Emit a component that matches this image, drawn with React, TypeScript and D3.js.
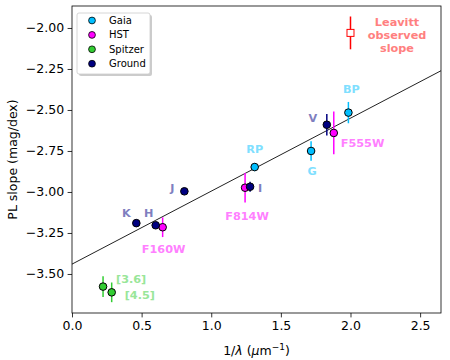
import React, { useEffect, useRef } from 'react';
import * as d3 from 'd3';

// series: [label, 1/lambda, slope, error]
const gaiaNames = ['BP', 'G', 'RP'];
const gaiaX = [1.985, 1.717, 1.312];
const gaiaY = [-2.516, -2.75, -2.848];
const gaiaErr = [0.065, 0.06, 0.025];

const hstNames = ['F555W', 'F814W', 'F160W'];
const hstX = [1.88, 1.243, 0.651];
const hstY = [-2.64, -2.974, -3.215];
const hstErr = [0.13, 0.09, 0.06];

const spitzerNames = ['[3.6]', '[4.5]'];
const spitzerX = [0.223, 0.285];
const spitzerY = [-3.577, -3.612];
const spitzerErr = [0.063, 0.06];

const groundNames = ['V', 'I', 'J', 'H', 'K'];
const groundX = [1.83, 1.279, 0.807, 0.601, 0.462];
const groundY = [-2.59, -2.968, -2.996, -3.203, -3.19];
const groundErr = [0.065, 0.03, 0, 0, 0];

const leavittX = 2.0;
const leavittY = -2.03;
const leavittErr = 0.1;

const fitIntercept = -3.44;
const fitSlope = 0.445;

const xTicks = [0, 0.5, 1, 1.5, 2, 2.5];
const yTicks = [-3.5, -3.25, -3.0, -2.75, -2.5, -2.25, -2.0];

const App = () => {
  const ref = useRef(null);

  useEffect(() => {
    const svg = d3.select(ref.current);
    svg.selectAll('*').remove();

    const left = 72, right = 441, top = 6, bottom = 313;
    const x = d3.scaleLinear().domain([0, 2.65]).range([left, right]);
    const y = d3.scaleLinear().domain([-3.738, -1.866]).range([bottom, top]);
    const font = 'DejaVu Sans';

    // fit line
    svg.append('line')
      .attr('x1', x(0)).attr('y1', y(fitIntercept))
      .attr('x2', x(2.65)).attr('y2', y(fitIntercept + fitSlope * 2.65))
      .attr('stroke', '#222').attr('stroke-width', 1);

    const groups = [
      { xs: gaiaX, ys: gaiaY, err: gaiaErr, names: gaiaNames, color: '#00bfff', label: '#80dfff' },
      { xs: hstX, ys: hstY, err: hstErr, names: hstNames, color: '#ff00ff', label: '#ff80ff' },
      { xs: spitzerX, ys: spitzerY, err: spitzerErr, names: spitzerNames, color: '#32cd32', label: '#99e699' },
      { xs: groundX, ys: groundY, err: groundErr, names: groundNames, color: '#000080', label: '#7f7fbf' },
    ];

    // label offsets in px relative to point
    const offsets = {
      BP: [3, -24, 'middle'], G: [1, 20, 'middle'], RP: [0, -18, 'middle'],
      F555W: [7, 10, 'start'], F814W: [2, 28, 'middle'], F160W: [1, 22, 'middle'],
      '[3.6]': [13, -8, 'start'], '[4.5]': [13, 3, 'start'],
      V: [-14, -7, 'middle'], I: [10, 1, 'middle'], J: [-12, -3, 'middle'],
      H: [-7, -12, 'middle'], K: [-10, -10, 'middle'],
    };

    groups.forEach((g) => {
      g.xs.forEach((xv, i) => {
        if (g.err[i] > 0) {
          svg.append('line')
            .attr('x1', x(xv)).attr('x2', x(xv))
            .attr('y1', y(g.ys[i] - g.err[i])).attr('y2', y(g.ys[i] + g.err[i]))
            .attr('stroke', g.color).attr('stroke-width', 1.5);
        }
      });
    });
    groups.forEach((g) => {
      g.xs.forEach((xv, i) => {
        svg.append('circle')
          .attr('cx', x(xv)).attr('cy', y(g.ys[i])).attr('r', 3.8)
          .attr('fill', g.color).attr('stroke', '#000').attr('stroke-width', 1);
        const o = offsets[g.names[i]];
        svg.append('text')
          .attr('x', x(xv) + o[0]).attr('y', y(g.ys[i]) + o[1])
          .attr('dy', '0.35em').attr('text-anchor', o[2])
          .attr('font-family', font).attr('font-weight', 'bold').attr('font-size', 11.25)
          .attr('fill', g.label).text(g.names[i]);
      });
    });

    // Leavitt
    svg.append('line')
      .attr('x1', x(leavittX)).attr('x2', x(leavittX))
      .attr('y1', y(leavittY - leavittErr)).attr('y2', y(leavittY + leavittErr))
      .attr('stroke', 'red').attr('stroke-width', 1.5);
    svg.append('rect')
      .attr('x', x(leavittX) - 3.5).attr('y', y(leavittY) - 3.5)
      .attr('width', 7).attr('height', 7)
      .attr('fill', 'white').attr('stroke', 'red').attr('stroke-width', 1);
    ['Leavitt', 'observed', 'slope'].forEach((t, i) => {
      svg.append('text')
        .attr('x', 397).attr('y', 22 + i * 13).attr('dy', '0.35em')
        .attr('text-anchor', 'middle')
        .attr('font-family', font).attr('font-weight', 'bold').attr('font-size', 11.25)
        .attr('fill', '#ff8080').text(t);
    });

    // frame
    svg.append('rect')
      .attr('x', left).attr('y', top).attr('width', right - left).attr('height', bottom - top)
      .attr('fill', 'none').attr('stroke', '#000').attr('stroke-width', 0.8);

    const xa = svg.append('g').attr('transform', `translate(0,${bottom})`)
      .call(d3.axisBottom(x).tickValues(xTicks).tickFormat(d3.format('.1f')).tickSize(4.4).tickPadding(3.5));
    const ya = svg.append('g').attr('transform', `translate(${left},0)`)
      .call(d3.axisLeft(y).tickValues(yTicks).tickFormat(d3.format('.2f')).tickSize(4.4).tickPadding(3.5));
    [xa, ya].forEach((a) => {
      a.select('.domain').remove();
      a.selectAll('text').attr('font-family', font).attr('font-size', 12.5).attr('fill', '#000');
      a.selectAll('line').attr('stroke', '#000').attr('stroke-width', 0.8);
    });

    // axis labels
    const xl = svg.append('text').attr('x', (left + right) / 2).attr('y', 355)
      .attr('text-anchor', 'middle').attr('font-family', font).attr('font-size', 12.5);
    xl.append('tspan').text('1/');
    xl.append('tspan').attr('font-style', 'italic').text('λ');
    xl.append('tspan').text(' (');
    xl.append('tspan').attr('font-style', 'italic').text('μ');
    xl.append('tspan').text('m');
    xl.append('tspan').attr('font-size', 9).attr('dy', -5).text('−1');
    xl.append('tspan').attr('dy', 5).text(')');

    svg.append('text')
      .attr('transform', `translate(17,${(top + bottom) / 2}) rotate(-90)`)
      .attr('text-anchor', 'middle').attr('font-family', font).attr('font-size', 12.5)
      .text('PL slope (mag/dex)');

    // legend
    const legend = [
      ['Gaia', '#00bfff'], ['HST', '#ff00ff'], ['Spitzer', '#32cd32'], ['Ground', '#000080'],
    ];
    svg.append('rect').attr('x', 79).attr('y', 15).attr('width', 73).attr('height', 61)
      .attr('rx', 2).attr('fill', '#999').attr('opacity', 0.5);
    svg.append('rect').attr('x', 77).attr('y', 13).attr('width', 73).attr('height', 61)
      .attr('rx', 2).attr('fill', 'white').attr('stroke', '#ccc').attr('stroke-width', 0.8);
    legend.forEach(([name, c], i) => {
      svg.append('circle').attr('cx', 92).attr('cy', 20.5 + i * 14.4).attr('r', 3.4)
        .attr('fill', c).attr('stroke', '#000').attr('stroke-width', 0.8);
      svg.append('text').attr('x', 109).attr('y', 20.5 + i * 14.4).attr('dy', '0.35em')
        .attr('font-family', font).attr('font-size', 10).text(name);
    });
  }, []);

  return (
    <svg ref={ref} width={450} height={360}
      style={{ position: 'absolute', left: 0, top: 0, background: 'white' }} />
  );
};

export default App;
